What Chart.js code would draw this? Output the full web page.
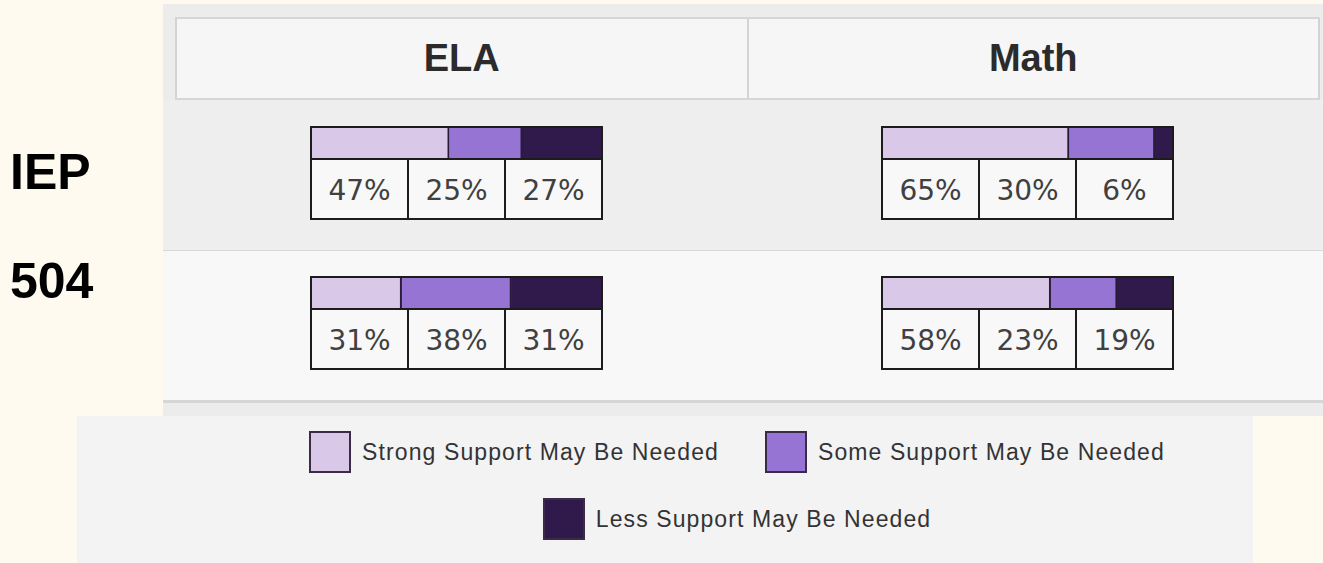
<!DOCTYPE html>
<html>
<head>
<meta charset="utf-8">
<title>Support levels by program</title>
<script src="https://cdn.jsdelivr.net/npm/chart.js@4.4.0/dist/chart.umd.min.js"></script>
<style>
  html, body { margin: 0; padding: 0; }
  body {
    width: 1323px; height: 563px; overflow: hidden; position: relative;
    background: #fffaef; font-family: "Liberation Sans", Arial, sans-serif;
  }
  #panel {
    position: absolute; left: 163px; top: 4px; width: 1160px; height: 412px;
    background: #ececec;
  }
  #header {
    position: absolute; left: 12px; top: 13px; width: 1145px; height: 83px;
    display: flex; box-sizing: border-box;
    border-top: 2px solid #d6d6d6; border-bottom: 2px solid #d6d6d6;
  }
  .head {
    flex: 1; display: flex; align-items: center; justify-content: center;
    background: #f6f6f6; border-left: 2px solid #d3d3d3;
    font-weight: bold; font-size: 38px; color: #2b2b2b;
  }
  .head:last-child { border-right: 2px solid #d3d3d3; }
  .row { position: absolute; left: 0; width: 1160px; }
  #rowIep { top: 96px; height: 150px; background: #eeeeee; border-bottom: 1px solid #d9d9d9; }
  #row504 { top: 247px; height: 149px; background: #f8f8f8; border-bottom: 3px solid #d6d6d6; }
  .group {
    position: absolute; left: 10px; font-weight: bold; font-size: 50px;
    color: #000; line-height: 1;
  }
  .block {
    position: absolute; width: 293px; height: 94px; box-sizing: border-box;
    border: 2px solid #1c1c1c; background: #f8f8f8;
  }
  .bar { position: relative; height: 30px; }
  .cells { display: flex; height: 60px; border-top: 2px solid #1c1c1c; box-sizing: border-box; }
  .cell {
    flex: 1; display: flex; align-items: center; justify-content: center;
    font-family: "DejaVu Sans", Verdana, sans-serif; font-size: 28px; color: #404040;
    padding-top: 2px;
  }
  .cell + .cell { border-left: 2px solid #1c1c1c; }
  #legend {
    position: absolute; left: 77px; top: 416px; width: 1176px; height: 147px;
    background: #f3f3f3;
  }
  .legendRow {
    position: absolute; left: 160px; width: 1000px; display: flex;
    justify-content: center; align-items: center;
  }
  .item { display: flex; align-items: center; margin: 0 23px; }
  .swatch { width: 42px; height: 42px; box-sizing: border-box; border: 2px solid #3a2c46; margin-right: 11px; }
  .item span { font-size: 23px; letter-spacing: 1.1px; color: #333; }
</style>
</head>
<body>
<div id="panel">
  <div id="header"></div>
  <div class="row" id="rowIep"></div>
  <div class="row" id="row504"></div>
</div>
<div id="legend"></div>

<script>
//************************* data **********************************
const subjects = ['ELA', 'Math'];
const groups = ['IEP', '504'];
const levels = ['Strong Support May Be Needed', 'Some Support May Be Needed', 'Less Support May Be Needed'];
const levelColors = ['#dac8e8', '#9674d3', '#2f1a4b'];

// percent of students in each support level: strong, some, less
const iepEla = [47, 25, 27];
const iepMath = [65, 30, 6];
const ela504 = [31, 38, 31];
const math504 = [58, 23, 19];

const valuesFor = {
  IEP: { ELA: iepEla, Math: iepMath },
  '504': { ELA: ela504, Math: math504 }
};

//************************* layout ********************************
const blockLeft = { ELA: 310, Math: 881 };
const blockTop = { IEP: 126, '504': 276 };
const labelTop = { IEP: 147, '504': 256 };

const header = document.getElementById('header');
const legend = document.getElementById('legend');

//header cells
subjects.forEach(subject => {
  header.insertAdjacentHTML('beforeend', `<div class="head">${subject}</div>`);
});

//one stacked bar plus its percent cells
const drawBlock = (group, subject) => {
  const values = valuesFor[group][subject];
  const total = values.reduce((a, b) => a + b, 0);
  const block = document.createElement('div');
  block.className = 'block';
  block.style.left = blockLeft[subject] + 'px';
  block.style.top = blockTop[group] + 'px';
  block.innerHTML = `<div class="bar"><canvas></canvas></div>
    <div class="cells">${values.map(v => `<div class="cell">${v}%</div>`).join('')}</div>`;
  document.body.appendChild(block);

  new Chart(block.querySelector('canvas'), {
    type: 'bar',
    data: {
      labels: [group + ' ' + subject],
      datasets: levels.map((level, i) => ({
        label: level,
        data: [values[i]],
        backgroundColor: levelColors[i],
        borderColor: '#2a1b38',
        borderWidth: { top: 0, bottom: 0, left: 0, right: i < levels.length - 1 ? 2 : 0 },
        borderSkipped: false,
        barPercentage: 1,
        categoryPercentage: 1
      }))
    },
    options: {
      indexAxis: 'y',
      responsive: true,
      maintainAspectRatio: false,
      animation: false,
      layout: { padding: 0 },
      plugins: { legend: { display: false }, tooltip: { enabled: false } },
      scales: {
        x: { stacked: true, display: false, min: 0, max: total },
        y: { stacked: true, display: false }
      }
    }
  });
};

groups.forEach(group => {
  document.body.insertAdjacentHTML('beforeend',
    `<div class="group" style="top:${labelTop[group]}px">${group}</div>`);
  subjects.forEach(subject => drawBlock(group, subject));
});

//legend: two on the first line, one on the second
const legendItem = (i) => `<div class="item"><div class="swatch" style="background:${levelColors[i]}"></div><span>${levels[i]}</span></div>`;
legend.insertAdjacentHTML('beforeend', `<div class="legendRow" style="top:15px">${legendItem(0)}${legendItem(1)}</div>`);
legend.insertAdjacentHTML('beforeend', `<div class="legendRow" style="top:82px">${legendItem(2)}</div>`);
</script>
</body>
</html>
